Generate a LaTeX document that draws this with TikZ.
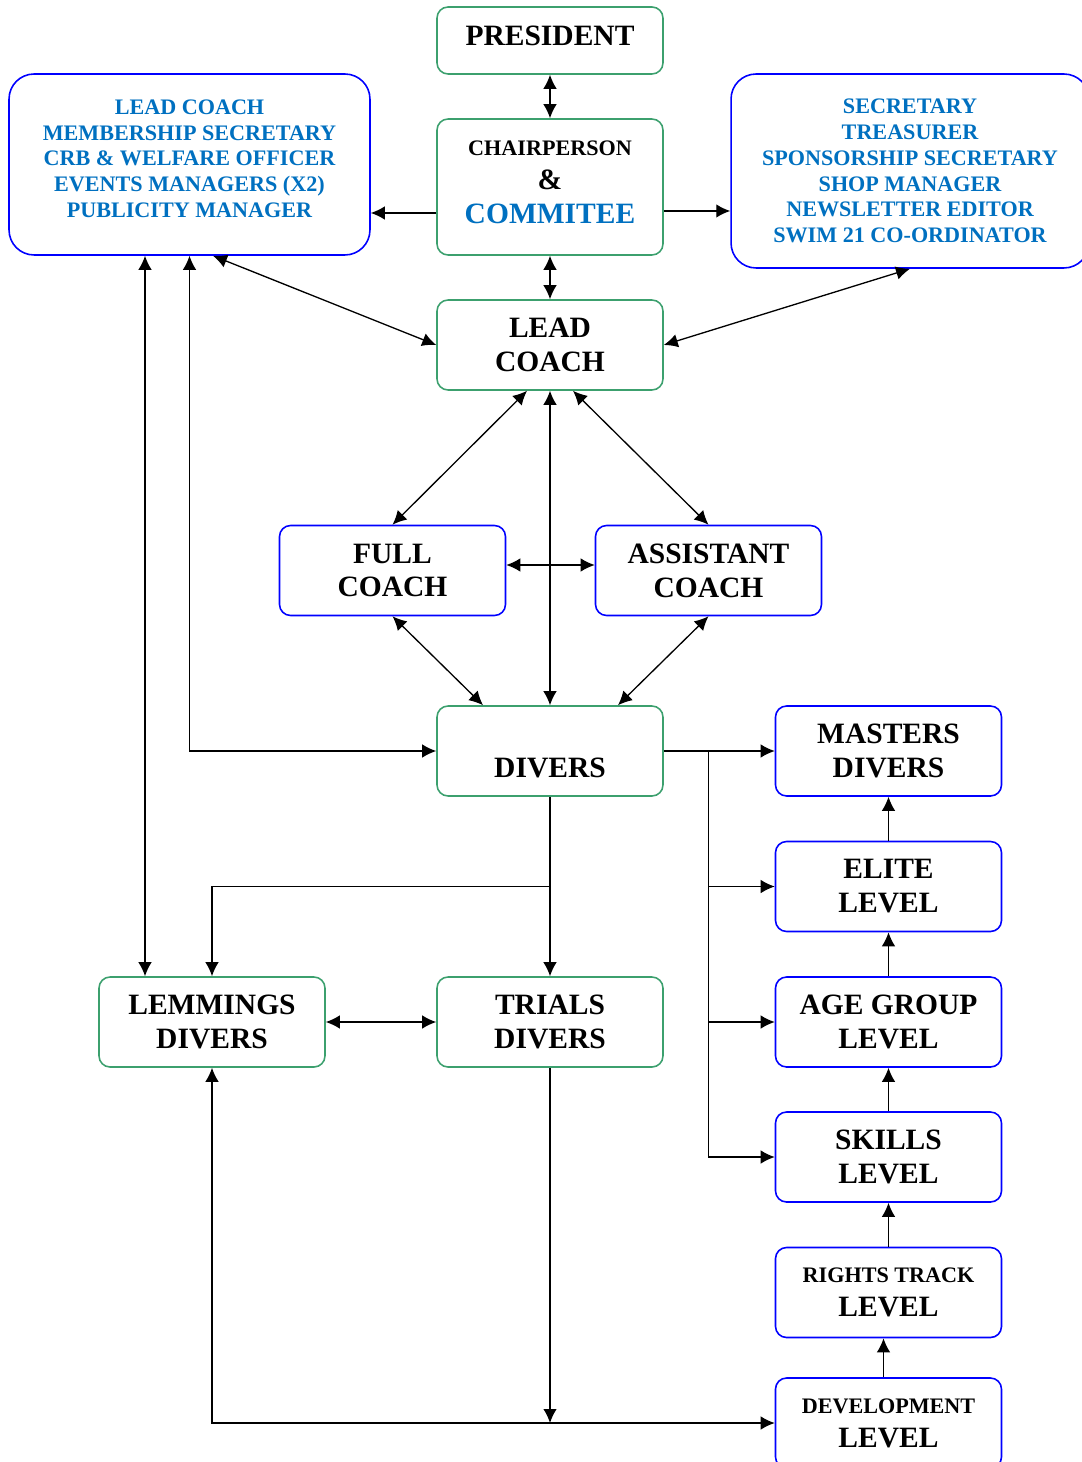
\documentclass[tikz,border=0pt]{standalone}
\usepackage{fontspec}
\setmainfont{Liberation Serif}
\usetikzlibrary{arrows.meta}
\definecolor{boxgreen}{RGB}{60,160,110}
\definecolor{txtblue}{RGB}{0,112,192}
\newcommand{\bigsz}{\fontsize{16.8}{19.3}\selectfont\bfseries}
\newcommand{\smallsz}{\fontsize{12.6}{14.7}\selectfont\bfseries}
\tikzset{
  greenbox/.style={draw=boxgreen, line width=0.9pt, rounded corners=0.22cm,
    minimum width=4.52cm, minimum height=1.8cm, align=center, inner sep=0pt, font=\bigsz},
  bluebox/.style={greenbox, draw=blue},
  staffbox/.style={bluebox, rounded corners=0.5cm, text=txtblue, font=\smallsz},
}
\begin{document}
\begin{tikzpicture}[x=0.02cm, y=-0.02cm, line width=0.75pt,
  >={Latex[length=0.28cm,width=0.27cm]}]
\useasboundingbox (0,0) rectangle (1081,1462);

% top of the club
\node[greenbox, minimum height=1.34cm] (pres) at (550,40.5) {PRESIDENT\\[-14pt]\mbox{}};
\node[greenbox, minimum height=2.72cm] (chair) at (550,187)
  {{\smallsz CHAIRPERSON}\\\&\\\textcolor{txtblue}{COMMITEE}\\[-14pt]\mbox{}};
\node[greenbox] (lead) at (550,345) {LEAD\\COACH};
\node[staffbox, minimum width=7.22cm, minimum height=3.62cm] (lft) at (189.5,164.5)
  {LEAD COACH\\MEMBERSHIP SECRETARY\\CRB \& WELFARE OFFICER\\EVENTS MANAGERS (X2)\\PUBLICITY MANAGER\\[-8pt]\mbox{}};
\node[staffbox, minimum width=7.16cm, minimum height=3.88cm] (rgt) at (910,171)
  {SECRETARY\\TREASURER\\SPONSORSHIP SECRETARY\\SHOP MANAGER\\NEWSLETTER EDITOR\\SWIM 21 CO-ORDINATOR};

% coaches
\node[bluebox] (full) at (392.5,570.5) {FULL\\COACH};
\node[bluebox] (asst) at (708.5,570.5) {ASSISTANT\\COACH};

% divers
\node[greenbox] (div) at (550,751) {\vphantom{D}\\DIVERS};
\node[greenbox] (lemm) at (212,1022) {LEMMINGS\\DIVERS};
\node[greenbox] (trial) at (550,1022) {TRIALS\\DIVERS};

% levels
\node[bluebox] (mast) at (888.5,751) {MASTERS\\DIVERS};
\node[bluebox] (elite) at (888.5,886.5) {ELITE\\LEVEL};
\node[bluebox] (agegp) at (888.5,1022) {AGE GROUP\\LEVEL};
\node[bluebox] (skill) at (888.5,1157) {SKILLS\\LEVEL};
\node[bluebox] (track) at (888.5,1292.5) {{\smallsz RIGHTS TRACK}\\LEVEL};
\node[bluebox] (devel) at (888.5,1423) {{\smallsz DEVELOPMENT}\\LEVEL};

\draw [<->] (pres) -- (chair);
\draw [<->] (chair) -- (lead);
\draw [->] ([yshift=-0.52cm]chair.west) -- ([yshift=-0.52cm]chair.west -| lft.east);
\draw [->] ([yshift=-0.48cm]chair.east) -- ([yshift=-0.48cm]chair.east -| rgt.west);
\draw [<->] ([xshift=0.47cm]lft.south) -- (lead.west);
\draw [<->] (rgt.south) -- (lead.east);

\draw [<->] ([xshift=-0.46cm]lead.south) -- (full.north);
\draw [<->] ([xshift=0.46cm]lead.south) -- (asst.north);
\draw [<->] (lead.south) -- (div.north);
\draw [<->] ([yshift=0.11cm]full.east) -- ([yshift=0.11cm]asst.west);
\draw [<->] (full.south) -- ([xshift=-1.34cm]div.north);
\draw [<->] (asst.south) -- ([xshift=1.36cm]div.north);

\draw [<->] (lft.south) |- (div.west);
\draw [<->] ([xshift=-0.89cm]lft.south) -- ([xshift=-0.89cm]lft.south |- lemm.north);

% divers down to the squads
\path (div.south) ++(0,90) coordinate (split);
\draw [->] (div.south) -- (trial.north);
\draw [->] (split) -| (lemm.north);
\draw [<->] (lemm.east) -- (trial.west);
\draw [<->] (lemm.south) |- (devel.west);
\draw [->] (trial.south) -- (trial.south |- devel.west);

% divers across to the levels
\path (div.east) ++(45,0) coordinate (fork);
\draw [->] (div.east) -- (mast.west);
\draw [->] (fork) |- (skill.west);
\draw [->] (fork |- elite.west) -- (elite.west);
\draw [->] (fork |- agegp.west) -- (agegp.west);

\draw [->] (elite) -- (mast);
\draw [->] (agegp) -- (elite);
\draw [->] (skill) -- (agegp);
\draw [->] (track) -- (skill);
\draw [->] ([xshift=-0.1cm]devel.north) -- ([xshift=-0.1cm]track.south);
\end{tikzpicture}
\end{document}
